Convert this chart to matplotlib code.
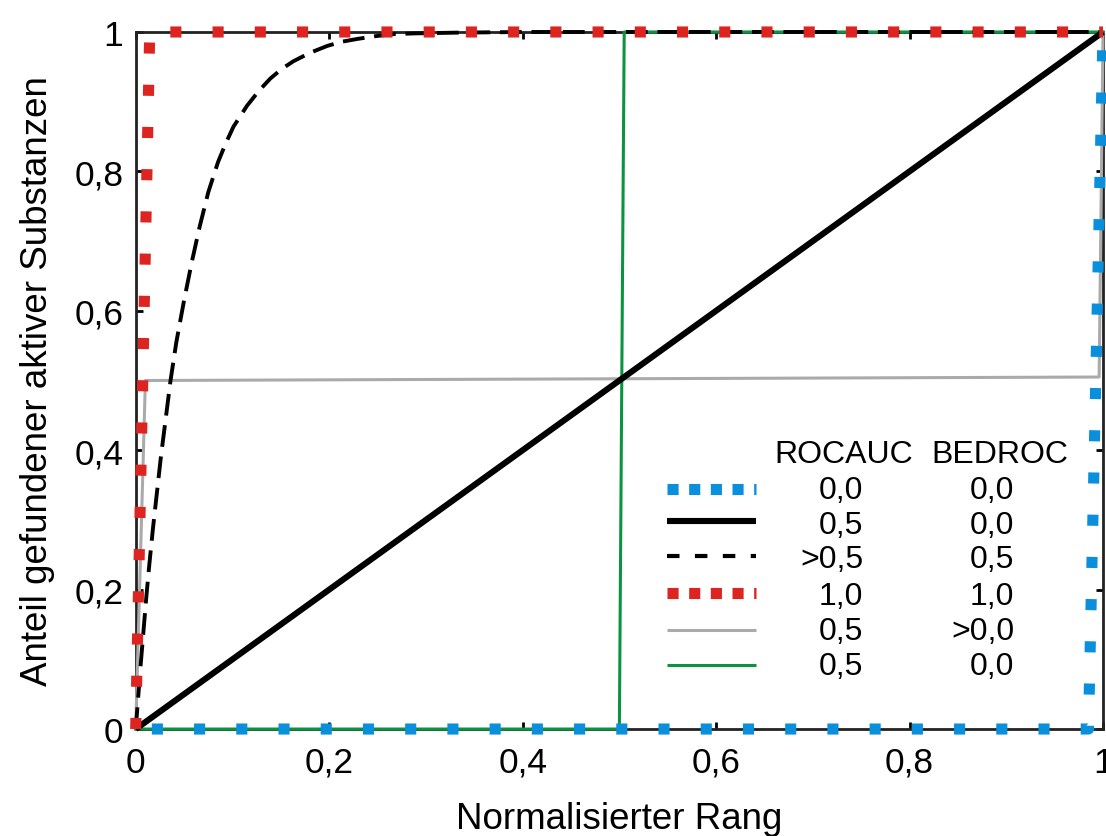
import matplotlib
matplotlib.use("Agg")
import matplotlib.pyplot as plt
from matplotlib.lines import Line2D

plt.rcParams['font.family'] = ['Liberation Sans', 'DejaVu Sans']

# ---- data ----
tick_vals = [0, 0.2, 0.4, 0.6, 0.8, 1.0]
tick_labels = ["0", "0,2", "0,4", "0,6", "0,8", "1"]

blue_x = [0.0, 0.985, 1.0]
blue_y = [0.0, 0.0, 1.0]

diag_x = [0.0, 1.0]
diag_y = [0.0, 1.0]

dash_x = [0.0, 0.002, 0.005, 0.008, 0.011, 0.014, 0.018, 0.022, 0.026, 0.031,
          0.036, 0.042, 0.050, 0.058, 0.066, 0.075, 0.085, 0.093, 0.101, 0.115,
          0.127, 0.139, 0.151, 0.163, 0.180, 0.198, 0.213, 0.229, 0.248, 0.266,
          0.290, 0.330, 0.400, 0.500, 1.0]
dash_y = [0.0, 0.035, 0.090, 0.140, 0.190, 0.235, 0.290, 0.340, 0.390, 0.445,
          0.500, 0.555, 0.615, 0.670, 0.720, 0.770, 0.813, 0.840, 0.864, 0.894,
          0.915, 0.933, 0.947, 0.958, 0.970, 0.980, 0.986, 0.990, 0.994, 0.997,
          0.998, 0.999, 1.0, 1.0, 1.0]

red_x = [0.0, 0.0145, 1.0]
red_y = [0.0, 1.0, 1.0]

gray_x = [0.0, 0.010, 0.996, 1.0]
gray_y = [0.0, 0.500, 0.505, 1.0]

green_x = [0.0, 0.500, 0.505, 1.0]
green_y = [0.0, 0.0, 1.0, 1.0]

legend_header = ["ROCAUC", "BEDROC"]
legend_rocauc = ["0,0", "0,5", ">0,5", "1,0", "0,5", "0,5"]
legend_bedroc = ["0,0", "0,0", "0,5", "1,0", ">0,0", "0,0"]

# ---- styles ----
BLUE = "#0a8fdc"
RED = "#dd2420"
GRAY = "#aaaaaa"
GREEN = "#0b9440"

fig = plt.figure(figsize=(11.06, 8.37), dpi=100)
ax = fig.add_axes([0.1227, 0.1278, 0.8746, 0.8328])

ax.plot(gray_x, gray_y, color=GRAY, lw=2.2, zorder=3, clip_on=False)
ax.plot(green_x, green_y, color=GREEN, lw=2.2, zorder=3.1, clip_on=False)
ax.plot(dash_x, dash_y, color="black", lw=2.8, linestyle=(0, (5.6, 2.5)),
        zorder=3.2, clip_on=False)
ax.plot(diag_x, diag_y, color="black", lw=4.4, zorder=3.3, clip_on=False,
        solid_capstyle="butt")
ax.plot(blue_x, blue_y, color=BLUE, lw=8, linestyle=(2.35, (1, 2.8)),
        dash_capstyle="butt", zorder=3.4, clip_on=False)
ax.plot(red_x, red_y, color=RED, lw=8, linestyle=(0, (1, 2.8)),
        dash_capstyle="butt", zorder=3.5, clip_on=False)

ax.set_xlim(0, 1)
ax.set_ylim(0, 1)
ax.set_xticks(tick_vals)
ax.set_xticklabels(tick_labels)
ax.set_yticks(tick_vals)
ax.set_yticklabels(tick_labels)
ax.tick_params(axis="both", direction="in", length=5, width=2,
               top=True, right=True, labelsize=25.5, color="black")
ax.tick_params(axis="x", pad=12)
ax.tick_params(axis="y", pad=9)
for sp in ax.spines.values():
    sp.set_linewidth(2)
    sp.set_color("#222222")

ax.set_xlabel("Normalisierter Rang", fontsize=26.5, labelpad=16)
ax.set_ylabel("Anteil gefundener aktiver Substanzen", fontsize=26.5, labelpad=14)

# ---- custom two-column legend ----
tr = ax.transAxes
hx0, hx1 = 0.549, 0.641
row_y = [0.3443, 0.2984, 0.2482, 0.1951, 0.1420, 0.0918]
base_y = [0.3314, 0.2812, 0.2324, 0.1793, 0.1291, 0.0789]
handle_styles = [
    dict(color=BLUE, lw=8, linestyle=(0, (1, 0.95)), dash_capstyle="butt"),
    dict(color="black", lw=4.4, solid_capstyle="butt"),
    dict(color="black", lw=3.0, linestyle=(0, (3, 3.7)), dash_capstyle="butt"),
    dict(color=RED, lw=8, linestyle=(0, (1, 0.95)), dash_capstyle="butt"),
    dict(color=GRAY, lw=2.2, solid_capstyle="butt"),
    dict(color=GREEN, lw=2.2, solid_capstyle="butt"),
]
for ry, st in zip(row_y, handle_styles):
    ax.add_line(Line2D([hx0, hx1], [ry, ry], transform=tr, zorder=5, **st))

fs_leg = 23
ax.text(0.732, 0.3831, legend_header[0], transform=tr, ha="center",
        va="baseline", fontsize=fs_leg)
ax.text(0.8936, 0.3831, legend_header[1], transform=tr, ha="center",
        va="baseline", fontsize=fs_leg)
for by, a, b in zip(base_y, legend_rocauc, legend_bedroc):
    ax.text(0.752, by, a, transform=tr, ha="right", va="baseline", fontsize=fs_leg)
    ax.text(0.908, by, b, transform=tr, ha="right", va="baseline", fontsize=fs_leg)

fig.savefig("out.png", dpi=100)
